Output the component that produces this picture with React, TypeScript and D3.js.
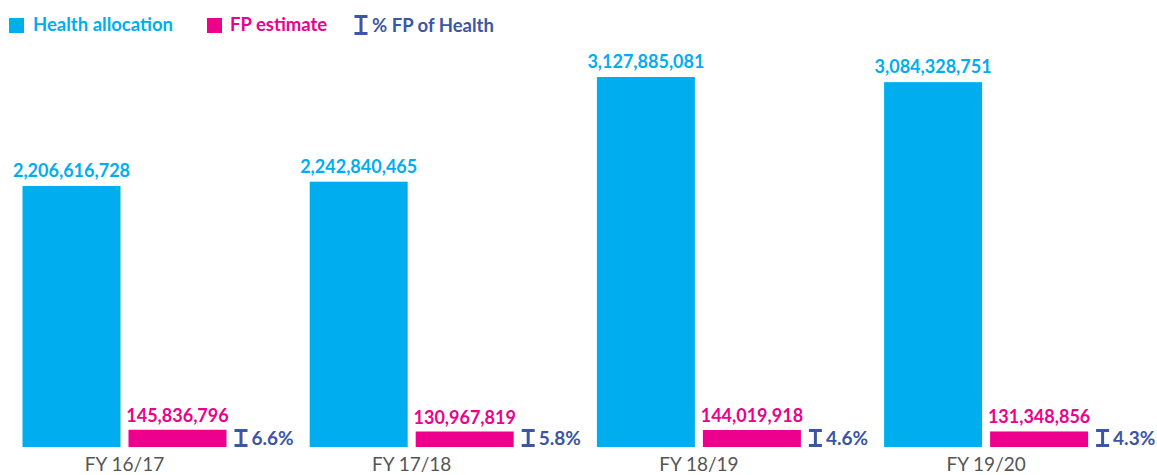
import React, { useEffect, useRef } from 'react';
import * as d3 from 'd3';

const categories = ['FY 16/17', 'FY 17/18', 'FY 18/19', 'FY 19/20'];
const healthAllocation = [2206616728, 2242840465, 3127885081, 3084328751];
const fpEstimate = [145836796, 130967819, 144019918, 131348856];
const fpPercent = [6.6, 5.8, 4.6, 4.3];

const HEALTH = '#00aeef';
const FP = '#ec008c';
const PCT = '#3b56a5';
const FONT = 'Lato, "Open Sans", sans-serif';

function App() {
  const ref = useRef<SVGSVGElement>(null);
  const width = 1157;
  const height = 475;
  const baseline = 447;

  useEffect(() => {
    if (!ref.current) return;
    const svg = d3.select(ref.current);
    svg.selectAll('*').remove();

    const x = d3.scaleBand<string>()
      .domain(categories)
      .range([22.5, 22.5 + 287.2 * categories.length])
      .paddingInner(0)
      .paddingOuter(0);

    const y = d3.scaleLinear()
      .domain([0, d3.max(healthAllocation) as number])
      .range([baseline, 77]);

    const barW = 98;
    const gap = 8;
    const fmt = d3.format(',');

    const g = svg.append('g');

    // health bars
    g.selectAll('rect.health')
      .data(categories)
      .join('rect')
      .attr('class', 'health')
      .attr('x', d => x(d)!)
      .attr('y', (d, i) => y(healthAllocation[i]))
      .attr('width', barW)
      .attr('height', (d, i) => baseline - y(healthAllocation[i]))
      .attr('fill', HEALTH);

    g.selectAll('text.hlabel')
      .data(categories)
      .join('text')
      .attr('class', 'hlabel')
      .attr('x', d => x(d)! + barW / 2)
      .attr('y', (d, i) => y(healthAllocation[i]) - 9)
      .attr('text-anchor', 'middle')
      .attr('font-family', FONT)
      .attr('font-weight', 'bold')
      .attr('font-size', 18)
      .attr('fill', HEALTH)
      .text((d, i) => fmt(healthAllocation[i]));

    // FP bars
    g.selectAll('rect.fp')
      .data(categories)
      .join('rect')
      .attr('class', 'fp')
      .attr('x', d => x(d)! + barW + gap)
      .attr('y', (d, i) => y(fpEstimate[i]))
      .attr('width', barW)
      .attr('height', (d, i) => baseline - y(fpEstimate[i]))
      .attr('fill', FP);

    g.selectAll('text.flabel')
      .data(categories)
      .join('text')
      .attr('class', 'flabel')
      .attr('x', d => x(d)! + barW + gap + barW / 2)
      .attr('y', (d, i) => y(fpEstimate[i]) - 8)
      .attr('text-anchor', 'middle')
      .attr('font-family', FONT)
      .attr('font-weight', 'bold')
      .attr('font-size', 18)
      .attr('fill', FP)
      .text((d, i) => fmt(fpEstimate[i]));

    // percent markers
    const drawIcon = (sel: any, cx: number, top: number, h: number) => {
      const w = 13;
      sel.append('path')
        .attr('d', `M${cx - w / 2},${top}H${cx + w / 2}M${cx},${top}V${top + h}M${cx - w / 2},${top + h}H${cx + w / 2}`)
        .attr('stroke', PCT)
        .attr('stroke-width', 3)
        .attr('fill', 'none');
    };

    categories.forEach((c, i) => {
      const x0 = x(c)! + barW * 2 + gap;
      drawIcon(g, x0 + 14.5, 430.5, 15);
      g.append('text')
        .attr('x', x0 + 25)
        .attr('y', 445)
        .attr('font-family', FONT)
        .attr('font-weight', 'bold')
        .attr('font-size', 19)
        .attr('fill', PCT)
        .text(fpPercent[i] + '%');
    });

    // category labels
    g.selectAll('text.cat')
      .data(categories)
      .join('text')
      .attr('class', 'cat')
      .attr('x', d => x(d)! + barW + gap / 2)
      .attr('y', 471)
      .attr('text-anchor', 'middle')
      .attr('font-family', FONT)
      .attr('font-size', 19)
      .attr('fill', '#555')
      .text(d => d);

    // legend
    const legend = svg.append('g');
    legend.append('rect').attr('x', 9).attr('y', 18).attr('width', 15).attr('height', 15).attr('fill', HEALTH);
    legend.append('text').attr('x', 33).attr('y', 30.5)
      .attr('font-family', FONT).attr('font-weight', 'bold').attr('font-size', 18.5)
      .attr('fill', HEALTH).text('Health allocation');
    legend.append('rect').attr('x', 207).attr('y', 18).attr('width', 15).attr('height', 15).attr('fill', FP);
    legend.append('text').attr('x', 230).attr('y', 30.5)
      .attr('font-family', FONT).attr('font-weight', 'bold').attr('font-size', 18.5)
      .attr('fill', FP).text('FP estimate');
    drawIcon(legend, 361, 16.5, 17);
    legend.append('text').attr('x', 372).attr('y', 32)
      .attr('font-family', FONT).attr('font-weight', 'bold').attr('font-size', 18.5)
      .attr('fill', PCT).text('% FP of Health');
  }, []);

  return (
    <svg
      ref={ref}
      width={width}
      height={height}
      style={{ position: 'absolute', left: 0, top: 0, background: '#fff' }}
    />
  );
}

export default App;
